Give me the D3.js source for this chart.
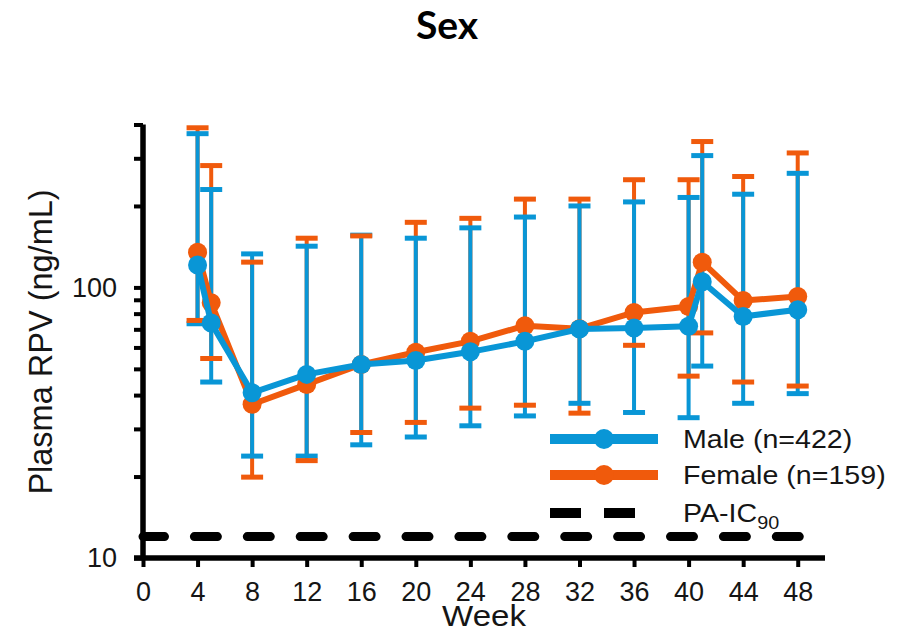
<!DOCTYPE html>
<html>
<head>
    <title>Plasma RPV by Sex</title>
    <script src="https://cdn.jsdelivr.net/npm/d3@7"></script>
    <style>
        body { margin: 0; background: #ffffff; }
        text { font-family: "Liberation Sans", Arial, sans-serif; fill: #151515; }
        .title { font-family: Lato, "Open Sans", sans-serif; font-weight: 700; fill: #000; }
    </style>
</head>
<body>
    <div id="svg_container"></div>

    <script>
        // values
        const weeks = [4, 5, 8, 12, 16, 20, 24, 28, 32, 36, 40, 41, 44, 48];

        const male_mean  = [121, 73.9, 40.8, 47.7, 51.9, 53.7, 57.8, 63.2, 70.2, 70.8, 71.8, 105, 78.1, 82.7];
        const male_upper = [370, 230, 133, 142, 156, 152, 166, 182, 200, 207, 215, 307, 221, 264];
        const male_lower = [73.4, 44.7, 23.8, 23.8, 26.2, 28.0, 30.8, 33.5, 37.3, 34.5, 33.0, 51.2, 37.3, 40.5];

        const female_mean  = [135, 87.7, 37.0, 43.8, 51.9, 57.6, 63.2, 72.2, 70.4, 80.8, 85.0, 124, 89.4, 92.5];
        const female_upper = [389, 282, 124, 152, 155, 174, 180, 212, 212, 250, 250, 346, 257, 314];
        const female_lower = [75.5, 54.6, 19.9, 22.9, 29.1, 31.7, 35.8, 36.7, 34.3, 61.1, 47.0, 67.9, 44.7, 43.2];

        const x_ticks = [0, 4, 8, 12, 16, 20, 24, 28, 32, 36, 40, 44, 48];
        const y_ticks = [10, 20, 30, 40, 50, 60, 70, 80, 90, 100, 200, 300, 400];
        const y_labels = [10, 100];
        const pa_ic90 = 12;

        const series_names = ["Male (n=422)", "Female (n=159)"];

        const width = 902;
        const height = 633;
        const margin = { top: 124.5, right: 77, bottom: 75, left: 143 };

        const blue = "#0996d6";
        const orange = "#f05a0c";

        const svg = d3.select("#svg_container")
            .append("svg")
            .attr("width", width)
            .attr("height", height);

        const x = d3.scaleLinear()
            .domain([0, 50])
            .range([margin.left, width - margin.right]);

        const y = d3.scaleLog()
            .domain([10, 400])
            .range([height - margin.bottom, margin.top]);

        // title
        svg.append("text")
            .attr("class", "title")
            .attr("x", 447)
            .attr("y", 39)
            .attr("text-anchor", "middle")
            .style("font-size", "39px")
            .text("Sex");

        // PA-IC90 reference line
        svg.append("line")
            .attr("x1", x(0))
            .attr("x2", x(48.5))
            .attr("y1", y(pa_ic90))
            .attr("y2", y(pa_ic90))
            .attr("stroke", "#000")
            .attr("stroke-width", 9)
            .attr("stroke-linecap", "round")
            .attr("stroke-dasharray", "23 29.9")
            .attr("stroke-dashoffset", 1.5);

        // axes
        const x_axis = svg.append("g")
            .attr("transform", `translate(0,${y(10)})`)
            .call(d3.axisBottom(x).tickValues(x_ticks).tickSize(9).tickPadding(14.5).tickSizeOuter(0));

        const y_axis = svg.append("g")
            .attr("transform", `translate(${x(0)},0)`)
            .call(d3.axisLeft(y).tickValues(y_ticks).tickSize(9).tickPadding(17).tickSizeOuter(0)
                .tickFormat(d => y_labels.includes(d) ? d : ""));

        [x_axis, y_axis].forEach(ax => {
            ax.select(".domain").attr("stroke", "#000").attr("stroke-width", 5.5);
            ax.selectAll(".tick line").attr("stroke", "#000").attr("stroke-width", 4);
            ax.selectAll(".tick text")
                .attr("fill", "#151515")
                .style("font-family", "'Liberation Sans', Arial, sans-serif")
                .style("font-size", "27px");
        });
        // the x axis line runs a bit past 48 and the y axis line meets it
        x_axis.select(".domain").attr("d", `M${x(0) - 9},0H${x(50)}`);
        y_axis.select(".domain").attr("d", `M0,${y(400)}V${y(10) + 2}`);

        // axis titles
        svg.append("text")
            .attr("transform", "translate(52,342) rotate(-90)")
            .attr("text-anchor", "middle")
            .style("font-size", "32.5px")
            .text("Plasma RPV (ng/mL)");

        svg.append("text")
            .attr("transform", "translate(484,626) scale(1.12,1)")
            .attr("text-anchor", "middle")
            .style("font-size", "29.5px")
            .text("Week");

        // series
        const series = [
            { name: series_names[0], color: blue, mean: male_mean, upper: male_upper, lower: male_lower },
            { name: series_names[1], color: orange, mean: female_mean, upper: female_upper, lower: female_lower }
        ];

        const to_points = s => weeks.map((w, i) => ({ week: w, mean: s.mean[i], upper: s.upper[i], lower: s.lower[i] }));

        const cap_half = 11;

        // error bar stems: orange first, blue over it
        [series[1], series[0]].forEach(s => {
            svg.append("g")
                .selectAll("line")
                .data(to_points(s))
                .enter()
                .append("line")
                .attr("x1", d => x(d.week))
                .attr("x2", d => x(d.week))
                .attr("y1", d => y(d.upper))
                .attr("y2", d => y(d.lower))
                .attr("stroke", s.color)
                .attr("stroke-width", 4);
        });

        // caps: blue first, orange over it
        [series[0], series[1]].forEach(s => {
            const pts = to_points(s);
            ["upper", "lower"].forEach(key => {
                svg.append("g")
                    .selectAll("line")
                    .data(pts)
                    .enter()
                    .append("line")
                    .attr("x1", d => x(d.week) - cap_half)
                    .attr("x2", d => x(d.week) + cap_half)
                    .attr("y1", d => y(d[key]))
                    .attr("y2", d => y(d[key]))
                    .attr("stroke", s.color)
                    .attr("stroke-width", 5);
            });
        });

        const line = d3.line()
            .x(d => x(d.week))
            .y(d => y(d.mean));

        // mean lines and markers, male drawn last (on top)
        [series[1], series[0]].forEach(s => {
            const pts = to_points(s);
            svg.append("path")
                .datum(pts)
                .attr("d", line)
                .attr("fill", "none")
                .attr("stroke", s.color)
                .attr("stroke-width", 6)
                .attr("stroke-linejoin", "round");

            svg.append("g")
                .selectAll("circle")
                .data(pts)
                .enter()
                .append("circle")
                .attr("cx", d => x(d.week))
                .attr("cy", d => y(d.mean))
                .attr("r", 9.5)
                .attr("fill", s.color);
        });

        // legend
        const legend_x1 = 550;
        const legend_x2 = 658;
        const legend_rows = [439, 475, 513];

        series.forEach((s, i) => {
            const g = svg.append("g").attr("transform", `translate(0,${legend_rows[i]})`);
            g.append("line")
                .attr("x1", legend_x1)
                .attr("x2", legend_x2)
                .attr("stroke", s.color)
                .attr("stroke-width", 10);
            g.append("circle")
                .attr("cx", (legend_x1 + legend_x2) / 2)
                .attr("r", 10)
                .attr("fill", s.color);
            g.append("text")
                .attr("transform", "translate(683,9) scale(1.1,1)")
                .style("font-size", "26px")
                .text(s.name);
        });

        const pa_row = svg.append("g").attr("transform", `translate(0,${legend_rows[2]})`);
        pa_row.append("line")
            .attr("x1", legend_x1)
            .attr("x2", legend_x2)
            .attr("stroke", "#000")
            .attr("stroke-width", 10)
            .attr("stroke-dasharray", "31 23");
        const pa_text = pa_row.append("text")
            .attr("transform", "translate(683,9) scale(1.1,1)")
            .style("font-size", "26px");
        pa_text.append("tspan").text("PA-IC");
        pa_text.append("tspan")
            .attr("dy", 7)
            .style("font-size", "18px")
            .text("90");
    </script>
</body>
</html>
